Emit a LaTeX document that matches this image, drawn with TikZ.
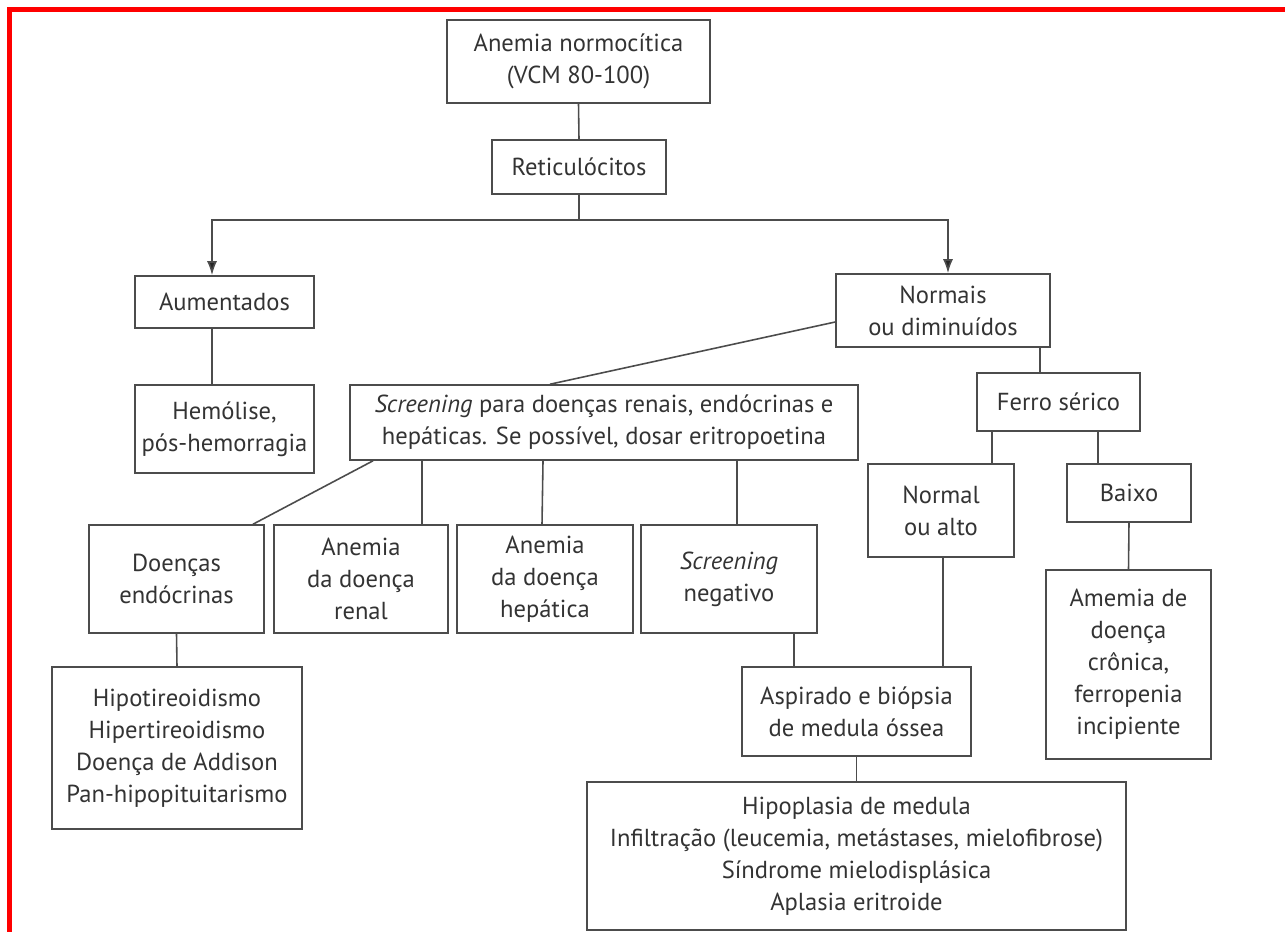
\documentclass[tikz,border=0pt]{standalone}
\usepackage{fontspec}
\setmainfont{PT Sans}
\usepackage{tikz}
\usepackage{xcolor}
\usetikzlibrary{arrows.meta}

\definecolor{linegray}{gray}{0.3}
\definecolor{textgray}{gray}{0.2}

\begin{document}
\begin{tikzpicture}[x=0.02cm, y=-0.02cm]
        \tikzstyle{every node}=[font=\fontsize{14}{18.2}\selectfont, text=textgray]
        \tikzstyle{box}=[rectangle, draw=linegray, line width=0.9pt, align=center, inner sep=0pt]
        \tikzstyle{link}=[draw=linegray, line width=0.9pt]
        \tikzstyle{arrow}=[link, -{Latex[length=0.28cm, width=0.2cm, fill=black!85]}]

        \useasboundingbox (0,0) rectangle (1285,932);
        % Frame
        \draw[red, line width=0.1cm] (9.5,932) -- (9.5,9.5) -- (1285,9.5);

        % Nodes
        \node (anemia) [box, minimum width=5.26cm, minimum height=1.66cm] at (578.5,61.5) {Anemia normocítica\\(VCM 80-100)};
        \node (reticulocitos) [box, minimum width=3.48cm, minimum height=1.08cm] at (579,167) {Reticulócitos};
        \node (aumentados) [box, minimum width=3.58cm, minimum height=1.04cm] at (224.5,302) {Aumentados};
        \node (normais) [box, minimum width=4.28cm, minimum height=1.46cm] at (943,310.5) {Normais\\ou diminuídos};
        \node (hemolise) [box, minimum width=3.58cm, minimum height=1.76cm] at (224.5,429) {Hemólise,\\pós-hemorragia};
        \node (screening) [box, minimum width=10.16cm, minimum height=1.5cm] at (604,422.5) {\textit{Screening} para doenças renais, endócrinas e\\hepáticas. Se possível, dosar eritropoetina};
        \node (ferro) [box, minimum width=3.26cm, minimum height=1.16cm] at (1058.5,402) {Ferro sérico};
        \node (normal) [box, minimum width=2.92cm, minimum height=1.86cm] at (941,510.5) {Normal\\ou alto};
        \node (baixo) [box, minimum width=2.48cm, minimum height=1.16cm] at (1129,493) {Baixo};
        \node (cronica) [box, minimum width=3.3cm, minimum height=3.78cm] at (1128.5,664.5) {Amemia de\\doença\\crônica,\\ferropenia\\incipiente};
        \node (endocrinas) [box, minimum width=3.5cm, minimum height=2.16cm] at (176.5,579) {Doenças\\endócrinas};
        \node (renal) [box, minimum width=3.48cm, minimum height=2.16cm] at (361,579) {Anemia\\da doença\\renal};
        \node (hepatica) [box, minimum width=3.52cm, minimum height=2.16cm] at (545,579) {Anemia\\da doença\\hepática};
        \node (negativo) [box, minimum width=3.52cm, minimum height=2.16cm] at (729,579) {\textit{Screening}\\negativo};
        \node (aspirado) [box, minimum width=4.58cm, minimum height=1.78cm] at (856.5,711.5) {Aspirado e biópsia\\de medula óssea};
        \node (medula) [box, minimum width=10.78cm, minimum height=2.96cm] at (856.5,856) {Hipoplasia de medula\\Infiltração (leucemia, metástases, mielofibrose)\\Síndrome mielodisplásica\\Aplasia eritroide};
        \node (hipotireoidismo) [box, minimum width=5cm, minimum height=3.24cm] at (177,748) {Hipotireoidismo\\Hipertireoidismo\\Doença de Addison\\Pan-hipopituitarismo};

        % Edges
        \coordinate (split) at (579,220);
        \draw[link] (anemia.south) -- (reticulocitos.north);
        \draw[link] (reticulocitos.south) -- (split);
        \draw[arrow] (split) -| ([xshift=-0.25cm]aumentados.north);
        \draw[arrow] (split) -| ([xshift=0.1cm]normais.north);
        \draw[link] ([xshift=-0.25cm]aumentados.south) -- ([xshift=-0.25cm]hemolise.north);
        \draw[link] ([yshift=-0.23cm]normais.west) -- ([xshift=-1.08cm]screening.north);
        \draw[link] ([xshift=1.94cm]normais.south) -- ([xshift=-0.37cm]ferro.north);
        \draw[link] ([xshift=-1.33cm]ferro.south) -- ([xshift=1.02cm]normal.north);
        \draw[link] ([xshift=0.79cm]ferro.south) -- ([xshift=-0.62cm]baixo.north);
        \draw[link] (baixo.south) -- (cronica.north);
        \draw[link] ([xshift=-4.62cm]screening.south) -- ([xshift=1.53cm]endocrinas.north);
        \draw[link] ([xshift=-3.64cm]screening.south) -- ([xshift=1.22cm]renal.north);
        \draw[link] ([xshift=-1.22cm]screening.south) -- ([xshift=-0.06cm]hepatica.north);
        \draw[link] ([xshift=2.66cm]screening.south) -- ([xshift=0.16cm]negativo.north);
        \draw[link] ([xshift=1.3cm]negativo.south) -- ([xshift=-1.25cm]aspirado.north);
        \draw[link] ([xshift=0.04cm]normal.south) -- ([xshift=1.73cm]aspirado.north);
        \draw[link] (aspirado.south) -- (medula.north);
        \draw[link] (endocrinas.south) -- (hipotireoidismo.north);

\end{tikzpicture}
\end{document}
